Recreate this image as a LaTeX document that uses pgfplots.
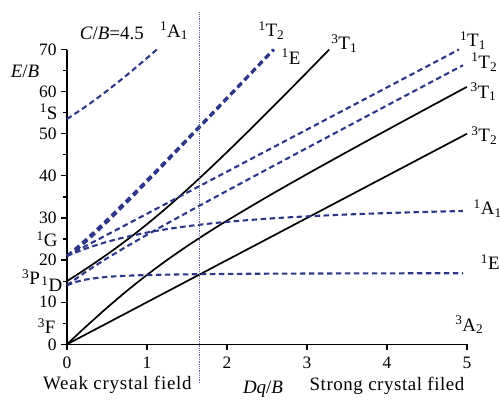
\documentclass[border=0pt]{standalone}
\usepackage{pgfplots}
\pgfplotsset{compat=1.18}
\usepackage{fontspec}
\setmainfont{Liberation Serif}
\definecolor{navy}{RGB}{45,55,135}
\definecolor{vgray}{RGB}{95,105,140}
\newcommand{\term}[3]{\textsuperscript{#1}#2\textsubscript{#3}}
\newcommand{\lf}{\fontsize{19}{21}\selectfont}
\begin{document}
\begin{tikzpicture}
\begin{axis}[
  at={(0,0)}, anchor=south west,
  x=80bp, y=4.2114bp,
  xmin=0, xmax=5, ymin=0, ymax=70,
  clip=false,
  axis lines=left,
  axis line style={-, line width=1.3bp},
  tick align=outside,
  major tick length=6bp, minor tick length=4bp,
  tick style={black, line width=1.2bp},
  xtick={0,1,2,3,4,5},
  ytick={0,10,20,30,40,50,60,70},
  minor ytick={5,15,25,35,45,55,65},
  /pgf/number format/assume math mode=true,
  ticklabel style={font=\fontsize{17.5}{18}\selectfont},
  xticklabel style={yshift=-3bp},
  yticklabel style={xshift=-1bp},
]
% triplets (solid)
\addplot[black, line width=1.7bp] coordinates {(0,0) (5,50)};
\addplot[black, line width=1.7bp, smooth] coordinates {(0,0) (0.125,2.232) (0.25,4.426) (0.5,8.675) (0.75,12.703) (1,16.479) (1.25,20.0) (1.5,23.292) (1.75,26.397) (2,29.361) (2.5,35) (3,40.407) (3.5,45.682) (4,50.879) (4.5,56.026) (5,61.14)};
\addplot[black, line width=1.7bp, smooth] coordinates {(0,15) (0.125,16.518) (0.25,18.074) (0.5,21.325) (0.75,24.797) (1,28.521) (1.25,32.5) (1.5,36.708) (1.75,41.103) (2,45.639) (2.25,50.281) (2.5,55) (2.75,59.775) (3,64.593) (3.278,70)};
% singlets (dashed)
\addplot[navy, line width=2.1bp, dash pattern=on 5.5bp off 3.5bp, smooth] coordinates {(0,53.5) (0.25,56.678) (0.5,60.182) (0.75,63.961) (1,67.964) (1.122,70)};
\addplot[navy, line width=2.1bp, dash pattern=on 5.5bp off 3.5bp, smooth] coordinates {(0,21) (0.25,22.822) (0.5,24.318) (0.75,25.539) (1,26.536) (1.25,27.354) (1.5,28.031) (1.75,28.595) (2,29.071) (2.5,29.822) (3,30.384) (3.5,30.819) (4,31.162) (4.5,31.441) (4.95,31.65)};
\addplot[navy, line width=2.1bp, dash pattern=on 5.5bp off 3.5bp, smooth] coordinates {(0,14) (0.125,14.869) (0.25,15.417) (0.5,16.0) (0.75,16.282) (1,16.443) (1.25,16.546) (1.5,16.617) (2,16.709) (2.5,16.766) (3,16.804) (4,16.852) (4.95,16.88)};
\addplot[navy, line width=2.1bp, dash pattern=on 5.5bp off 3.5bp, smooth] coordinates {(0,14) (0.125,15.733) (0.25,17.369) (0.5,20.417) (0.75,23.267) (1,26.0) (1.25,28.663) (1.5,31.282) (1.75,33.873) (2,36.443) (2.5,41.546) (3,46.618) (3.5,51.67) (4,56.709) (4.5,61.741) (4.95,66.26)};
\addplot[navy, line width=2.1bp, dash pattern=on 5.5bp off 3.5bp] coordinates {(0,21) (4.9,70)};
\addplot[navy, line width=2.6bp, dash pattern=on 6bp off 4bp, smooth] coordinates {(0,21) (0.125,22.631) (0.25,24.583) (0.5,29.0) (0.75,33.718) (1,38.557) (1.25,43.454) (1.5,48.383) (1.75,53.33) (2,58.291) (2.25,63.259) (2.5,68.234) (2.589,70)};
\addplot[navy, line width=2.6bp, dash pattern=on 6bp off 4bp, smooth] coordinates {(0,21) (0.125,23.017) (0.25,25.131) (0.5,29.583) (0.75,34.233) (1,39.0) (1.25,43.837) (1.5,48.718) (1.75,53.627) (2,58.557) (2.25,63.5) (2.5,68.454) (2.578,70)};
% vertical divider
\addplot[vgray, line width=0.8bp, densely dotted] coordinates {(1.65,-9.2) (1.65,78.9)};
% labels
\node[font=\lf] at (axis cs:0.56,73.85) {\textit{C}/\textit{B}=4.5};
\node[font=\lf, anchor=west] at (axis cs:1.12,74.4) {\term{1}{A}{1}};
\node[font=\lf] at (axis cs:-0.525,64.7) {\textit{E}/\textit{B}};
\node[font=\lf, anchor=east] at (axis cs:-0.075,55.2) {\textsuperscript{1}S};
\node[font=\lf, anchor=east] at (axis cs:-0.075,25) {\textsuperscript{1}G};
\node[font=\lf] at (axis cs:-0.45,15.9) {\textsuperscript{3}P};
\node[font=\lf] at (axis cs:-0.19,14.3) {\textsuperscript{1}D};
\node[font=\lf, anchor=east] at (axis cs:-0.1,4.4) {\textsuperscript{3}F};
\node[font=\lf, anchor=west] at (axis cs:4.81,4.6) {\term{3}{A}{2}};
\node[font=\lf, anchor=west] at (axis cs:5.13,19.6) {\textsuperscript{1}E};
\node[font=\lf, anchor=west] at (axis cs:5.04,32.2) {\term{1}{A}{1}};
\node[font=\lf, anchor=west] at (axis cs:5.01,49.6) {\term{3}{T}{2}};
\node[font=\lf, anchor=west] at (axis cs:5.0,59.9) {\term{3}{T}{1}};
\node[font=\lf, anchor=west] at (axis cs:5.01,67.0) {\term{1}{T}{2}};
\node[font=\lf, anchor=west] at (axis cs:4.87,72.2) {\term{1}{T}{1}};
\node[font=\lf, anchor=west] at (axis cs:2.35,74.5) {\term{1}{T}{2}};
\node[font=\lf, anchor=west] at (axis cs:2.64,68.3) {\textsuperscript{1}E};
\node[font=\lf, anchor=west] at (axis cs:3.26,71.4) {\term{3}{T}{1}};
\node[font=\lf\addfontfeatures{LetterSpace=4}] at (axis cs:0.63,-9.7) {Weak crystal field};
\node[font=\lf] at (axis cs:2.45,-10.6) {\textit{Dq}/\textit{B}};
\node[font=\lf\addfontfeatures{LetterSpace=3}] at (axis cs:4.0,-9.9) {Strong crystal filed};
\end{axis}
\pgfresetboundingbox
\path (-67bp,-55.7bp) rectangle (433bp,344.3bp);
\end{tikzpicture}
\end{document}
